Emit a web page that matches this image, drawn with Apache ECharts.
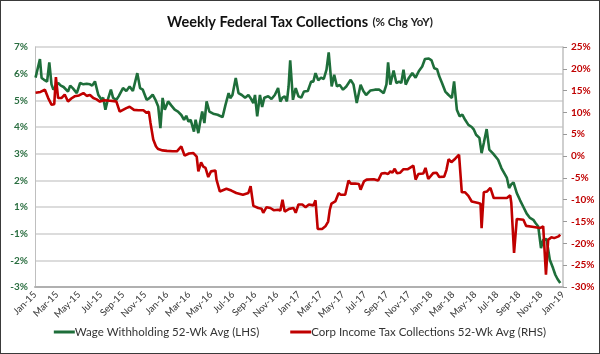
<!DOCTYPE html>
<html>
<head>
<meta charset="utf-8">
<script src="https://cdn.jsdelivr.net/npm/echarts@6/dist/echarts.min.js"></script>
<style>
html,body{margin:0;padding:0;background:#fff;}
#wrap{position:relative;width:600px;height:354px;}
#chart{width:600px;height:354px;}
#frame{position:absolute;left:0;top:0;width:600px;height:354px;box-sizing:border-box;border:1px solid #3a3a3a;pointer-events:none;}
</style>
</head>
<body>
<div id="wrap"><div id="chart"></div><div id="frame"></div></div>
<script>
// x positions: months elapsed since Jan-2015
const monthNames = ['Jan','Feb','Mar','Apr','May','Jun','Jul','Aug','Sep','Oct','Nov','Dec'];

// Wage Withholding 52-Wk Avg (LHS), % as labelled on left axis
const wageMonths = [0.05,0.45,0.6,0.8,0.95,1.1,1.3,1.5,1.67,1.85,2.1,2.35,2.6,3.0,3.2,3.45,3.8,4.1,4.4,4.7,5.0,5.2,5.45,5.75,6.05,6.2,6.4,6.6,6.9,7.1,7.4,7.6,8.0,8.3,8.6,8.9,9.3,9.55,9.8,10.15,10.4,10.7,10.95,11.2,11.4,11.6,11.8,12.1,12.4,12.7,13.0,13.3,13.55,13.75,13.95,14.15,14.45,14.6,14.85,15.0,15.2,15.4,15.6,15.85,16.2,16.6,17.05,17.3,17.6,17.75,17.95,18.25,18.5,18.8,19.1,19.4,19.65,19.85,20.0,20.2,20.45,20.65,20.85,21.2,21.5,21.8,22.1,22.3,22.5,22.7,22.9,23.05,23.2,23.45,23.7,23.95,24.2,24.45,24.8,25.1,25.3,25.5,25.75,26.0,26.25,26.5,26.7,26.97,27.2,27.45,27.7,28.0,28.3,28.7,28.95,29.25,29.6,29.85,30.1,30.5,30.9,31.3,31.7,31.95,32.1,32.3,32.6,32.85,33.1,33.3,33.5,33.7,34.0,34.3,34.6,34.9,35.2,35.45,35.8,36.05,36.3,36.55,36.75,37.0,37.3,37.6,37.9,38.1,38.35,38.6,38.85,39.1,39.4,39.7,39.9,40.1,40.4,40.6,40.8,41.06,41.3,41.65,42.1,42.4,42.9,43.1,43.3,43.5,43.8,44.1,44.4,44.7,45.0,45.3,45.5,45.75,46.0,46.2,46.5,46.8,47.1,47.3,47.5,47.75];
const wageValues = [5.85,6.55,5.84,5.78,5.85,5.7,6.42,5.6,5.4,5.45,5.65,5.55,5.5,5.33,5.55,5.45,5.27,5.65,5.6,5.62,5.6,5.55,5.71,5.21,5.02,5.1,4.65,5.0,5.4,5.09,5.02,5.15,5.46,5.35,5.52,5.35,6.02,5.46,5.4,5.02,5.08,5.21,5.02,4.77,3.96,5.09,4.65,4.96,4.8,4.65,4.58,4.45,4.27,4.42,4.2,4.27,3.83,4.27,3.77,4.15,4.58,4.15,4.96,4.58,4.5,4.46,4.37,4.8,5.27,5.08,5.2,5.84,5.27,5.2,5.1,5.2,5.05,4.9,5.2,4.4,5.2,4.75,5.1,5.15,5.05,5.2,5.46,4.95,5.1,5.15,4.96,5.5,6.5,5.02,5.46,5.15,5.1,5.33,5.35,5.7,5.7,6.02,5.75,5.85,5.8,6.15,6.8,5.52,5.96,5.52,5.58,5.4,5.52,5.77,5.6,4.9,5.58,5.35,5.2,5.37,5.4,5.4,5.27,5.6,6.42,5.59,6.12,5.65,5.7,5.65,6.15,5.59,5.85,6.02,5.85,6.1,6.27,6.55,6.57,6.5,6.2,6.17,5.9,5.65,5.33,5.2,5.09,5.71,4.65,4.4,4.46,4.27,4.08,4.0,3.9,3.71,3.59,3.02,3.4,3.92,3.15,3.0,2.77,2.46,2.09,1.71,1.85,1.92,1.52,1.25,1.0,0.5,0.18,0.04,-0.2,-0.46,-1.54,-1.23,-1.2,-1.98,-2.3,-2.54,-2.7,-2.85];

// Corp Income Tax Collections 52-Wk Avg (RHS), %
const corpMonths = [0.05,0.5,0.9,1.2,1.5,1.75,1.9,2.1,2.4,2.7,3.0,3.3,3.6,4.0,4.4,4.7,5.0,5.3,5.6,5.9,6.3,6.8,7.2,7.4,7.7,8.0,8.3,8.6,9.0,9.4,9.85,10.15,10.35,10.5,10.75,11.0,11.2,11.6,12.0,12.5,12.9,13.3,13.6,14.0,14.4,14.7,14.85,15.1,15.3,15.5,15.75,16.0,16.4,16.5,16.8,17.4,17.85,18.3,18.9,19.4,19.6,19.85,20.3,20.6,20.75,21.05,21.4,21.7,22.1,22.3,22.5,22.7,23.1,23.5,23.7,23.95,24.3,24.6,24.9,25.3,25.5,25.7,26.1,26.4,26.65,26.8,26.95,27.3,27.6,27.8,28.2,28.5,28.7,29.1,29.45,29.6,29.9,30.15,30.8,31.2,31.5,31.8,32.1,32.3,32.5,32.7,32.9,33.2,33.5,33.9,34.4,34.6,34.85,35.3,35.5,35.75,36.2,36.5,36.75,37.2,37.4,37.6,37.85,38.2,38.55,38.8,39.1,39.4,39.7,40.3,40.5,40.6,40.8,41.1,41.4,41.7,42.3,42.9,43.2,43.3,43.55,43.8,44.4,44.65,45.2,45.9,46.2,46.45,46.65,46.95,47.2,47.6,47.75];
const corpValues = [14.5,14.7,15.2,13.3,11.8,11.9,18.1,13.3,13.3,14.1,12.5,13.2,13.7,13.9,14.45,13.8,14.0,13.3,13.0,12.5,12.8,12.7,12.6,12.5,10.2,10.6,11.0,11.3,10.6,10.5,10.5,9.9,10.2,7.6,3.8,2.2,1.6,1.3,1.2,1.1,1.1,2.2,0.1,0.6,0.7,-0.1,-3.5,-1.45,-2.4,-2.7,-4.8,-3.5,-3.3,-5.4,-8.1,-7.5,-7.9,-8.45,-8.85,-8.45,-6.9,-11.4,-11.9,-12.05,-13.0,-11.7,-11.9,-12.4,-12.3,-12.5,-10.0,-12.7,-12.1,-11.9,-13.0,-11.1,-11.1,-11.7,-11.1,-11.3,-10.15,-16.7,-16.7,-16.1,-15.0,-12.3,-10.9,-10.4,-8.5,-8.85,-8.85,-5.6,-6.3,-6.3,-6.4,-7.7,-5.8,-5.4,-5.3,-5.6,-4.0,-3.9,-4.1,-3.5,-3.8,-2.9,-3.9,-3.8,-3.0,-3.0,-2.2,-5.4,-4.1,-4.0,-2.7,-5.25,-3.9,-3.8,-4.8,-4.7,-3.2,-0.7,-1.4,-0.6,0.3,-8.3,-8.3,-9.1,-10.4,-10.75,-10.9,-16.5,-8.3,-8.1,-7.3,-9.6,-9.6,-9.6,-9.0,-10.75,-22.2,-14.4,-14.6,-16.0,-16.2,-16.5,-16.1,-27.2,-19.2,-18.6,-18.8,-18.4,-18.0];

// The left axis labels skip 0%: 1% is followed directly by -1%.
function lhsPos(v){ return v >= 1 ? v : (v >= -1 ? (v + 1) / 2 : v + 1); }
function lhsLabel(p){ return (p > 0 ? p : p - 1) + '%'; }

const GREEN = '#1e6e3a';
const RED = '#c00000';
const FONT = 'Lato, "Liberation Sans", sans-serif';

const chart = echarts.init(document.getElementById('chart'), null, {renderer:'canvas'});
chart.setOption({
  animation:false,
  backgroundColor:'#fff',
  textStyle:{fontFamily:FONT},
  title:{
    left:'center', top:8,
    text:'{a|Weekly Federal Tax Collections} {b|(% Chg YoY)}',
    textStyle:{
      rich:{
        a:{fontFamily:FONT,fontSize:14.5,fontWeight:'bold',color:'#111'},
        b:{fontFamily:FONT,fontSize:11.5,color:'#222'}
      }
    }
  },
  legend:{
    bottom:11, left:'center',
    icon:'rect', itemWidth:21, itemHeight:3, itemGap:31,
    textStyle:{fontFamily:FONT,fontSize:11.5,color:'#333',padding:[0,0,0,-5]},
    data:['Wage Withholding 52-Wk Avg (LHS)','Corp Income Tax Collections 52-Wk Avg (RHS)']
  },
  grid:{left:35,right:37,top:47,bottom:67,containLabel:false},
  xAxis:{
    type:'value', min:0, max:48, interval:2,
    axisLine:{show:true,onZero:false,lineStyle:{color:'#b0b0b0',width:2}},
    axisTick:{show:false},
    splitLine:{show:false},
    axisLabel:{
      rotate:45, fontSize:9.5, color:'#333', margin:6, fontFamily:FONT,
      formatter:function(m){ return monthNames[m % 12] + '-' + (15 + Math.floor(m / 12)); }
    }
  },
  yAxis:[
    {
      type:'value', min:-2, max:7, interval:1, position:'left',
      axisLine:{show:true,lineStyle:{color:'#bfbfbf',width:1}},
      axisTick:{show:false},
      splitLine:{show:true,lineStyle:{color:'#d0d0d0',width:1.5}},
      axisLabel:{color:'#2a6e40',fontWeight:'bold',fontSize:10,margin:7,fontFamily:FONT,formatter:lhsLabel}
    },
    {
      type:'value', min:-30, max:25, interval:5, position:'right',
      axisLine:{show:true,lineStyle:{color:'#bfbfbf',width:1.5}},
      axisTick:{show:true,inside:false,length:4,lineStyle:{color:'#999'}},
      splitLine:{show:false},
      axisLabel:{color:RED,fontWeight:'bold',fontSize:10,margin:8,fontFamily:FONT,formatter:'{value}%'}
    }
  ],
  series:[
    {
      name:'Wage Withholding 52-Wk Avg (LHS)', type:'line', yAxisIndex:0,
      showSymbol:false, symbol:'none', color:GREEN,
      lineStyle:{color:GREEN,width:2.6},
      data:wageMonths.map(function(m,i){ return [m, lhsPos(wageValues[i])]; })
    },
    {
      name:'Corp Income Tax Collections 52-Wk Avg (RHS)', type:'line', yAxisIndex:1,
      showSymbol:false, symbol:'none', color:RED,
      lineStyle:{color:RED,width:2.6},
      data:corpMonths.map(function(m,i){ return [m, corpValues[i]]; })
    }
  ]
});
</script>
</body>
</html>
